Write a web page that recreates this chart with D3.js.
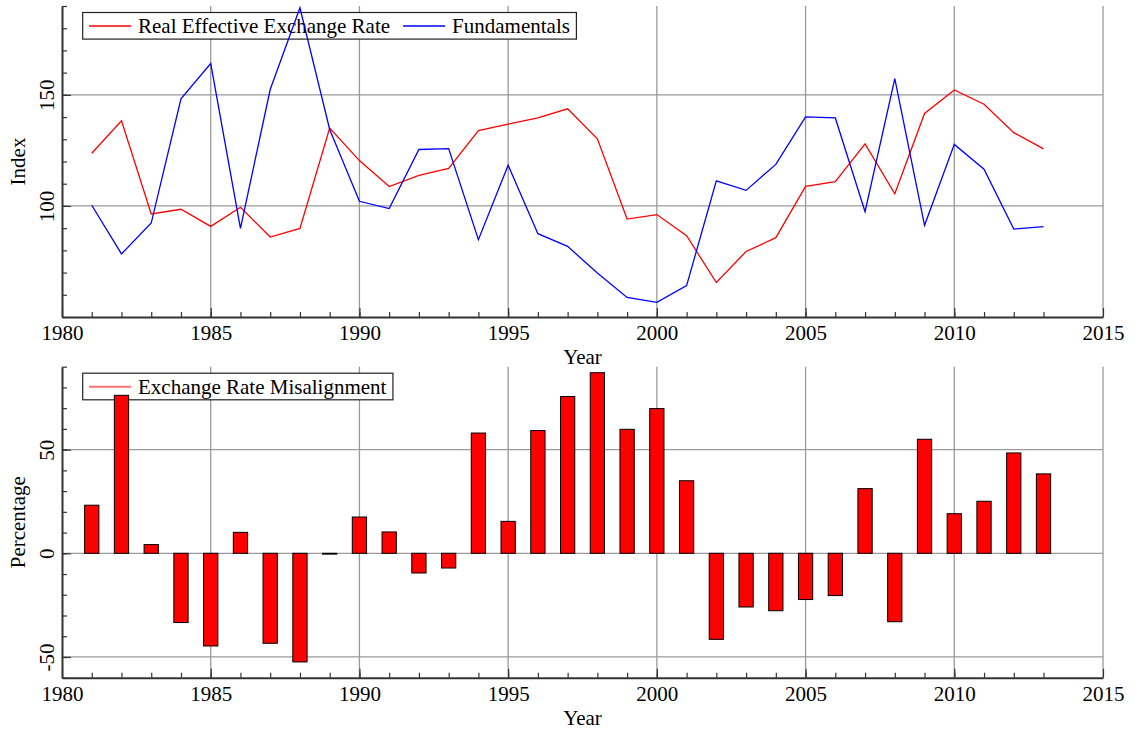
<!DOCTYPE html>
<html>
<head>
<meta charset="utf-8">
<script src="https://cdn.jsdelivr.net/npm/d3@7"></script>
<style>
  body { margin: 0; background: #fff; }
  svg text { font-family: 'Liberation Serif', 'Times New Roman', serif !important; }
</style>
</head>
<body>
<div id="chart"></div>
<script>
// years 1981..2013
const years = d3.range(1981, 2014);
const reer = [123.7, 138.3, 96.4, 98.5, 90.8, 99.4, 86.0, 89.9, 135.1, 120.4,
  108.7, 113.8, 116.9, 133.9, 136.8, 139.6, 143.7, 130.2, 94.1, 96.1,
  86.6, 65.5, 79.5, 85.7, 108.8, 110.9, 127.9, 105.5, 141.6, 152.2,
  145.8, 133.0, 125.7];
const fundamentals = [100.3, 78.4, 92.3, 148.2, 164.1, 89.9, 152.4, 189.2, 134.4, 102.1,
  98.8, 125.4, 125.8, 84.8, 118.3, 87.5, 81.8, 69.8, 58.8, 56.6,
  64.1, 111.3, 107.0, 118.7, 140.1, 139.6, 97.4, 157.3, 91.3, 127.7,
  116.5, 89.6, 90.7];
const misalignment = [23.2, 76.2, 4.2, -33.4, -44.7, 10.1, -43.4, -52.4, -0.4, 17.5,
  10.3, -9.5, -7.1, 58.0, 15.4, 59.2, 75.6, 87.1, 59.8, 69.8,
  35.0, -41.5, -25.9, -27.7, -22.3, -20.4, 31.2, -33.0, 55.0, 19.1,
  25.1, 48.4, 38.3];
const xTicks = [1980, 1985, 1990, 1995, 2000, 2005, 2010, 2015];
const indexTicks = [100, 150];
const pctTicks = [-50, 0, 50];

const width = 1139;
const height = 729;
const fontSize = 21;
const serif = "'Liberation Serif', 'Times New Roman', serif";

const svg = d3.select('#chart').append('svg')
  .attr('width', width)
  .attr('height', height);

const x = d3.scaleLinear().domain([1980, 2015]).range([62, 1103]);

function drawFrame(g, y, top, bottom, majorY, minorY, yTitle) {
  // grid
  g.append('g').selectAll('line.vx')
    .data(xTicks.slice(1))
    .enter().append('line')
      .attr('x1', d => x(d)).attr('x2', d => x(d))
      .attr('y1', top).attr('y2', bottom)
      .attr('stroke', '#9a9a9a').attr('stroke-width', 1.3);
  g.append('g').selectAll('line.hy')
    .data(majorY)
    .enter().append('line')
      .attr('x1', x.range()[0]).attr('x2', x.range()[1])
      .attr('y1', d => y(d)).attr('y2', d => y(d))
      .attr('stroke', '#9a9a9a').attr('stroke-width', 1.3);

  // x axis: minor then major
  g.append('g')
    .attr('transform', `translate(0,${bottom})`)
    .call(d3.axisBottom(x).tickValues(years).tickSizeInner(-5).tickSizeOuter(0).tickFormat(''))
    .call(a => a.select('.domain').remove())
    .call(a => a.selectAll('line').attr('stroke', '#333').attr('stroke-width', 1.2));
  const xa = g.append('g')
    .attr('transform', `translate(0,${bottom})`)
    .call(d3.axisBottom(x).tickValues(xTicks).tickSizeInner(-9).tickSizeOuter(0).tickFormat(d => String(d)));
  xa.attr('font-family', serif);
  xa.select('.domain').attr('stroke', '#333').attr('stroke-width', 2);
  xa.selectAll('line').attr('stroke', '#333').attr('stroke-width', 1.2);
  xa.selectAll('text')
    .attr('y', 23).attr('dy', 0)
    .attr('font-size', fontSize).attr('fill', '#000')
    .style('font-family', serif);

  g.append('text')
    .attr('x', (x.range()[0] + x.range()[1]) / 2)
    .attr('y', bottom + 47)
    .attr('text-anchor', 'middle')
    .attr('font-size', fontSize)
    .text('Year');

  // y axis
  g.append('g')
    .attr('transform', `translate(${x.range()[0]},0)`)
    .call(d3.axisLeft(y).tickValues(minorY).tickSizeInner(-5).tickSizeOuter(0).tickFormat(''))
    .call(a => a.select('.domain').remove())
    .call(a => a.selectAll('line').attr('stroke', '#333').attr('stroke-width', 1.2));
  const ya = g.append('g')
    .attr('transform', `translate(${x.range()[0]},0)`)
    .call(d3.axisLeft(y).tickValues(majorY).tickSizeInner(-9).tickSizeOuter(0).tickFormat(d => String(d)));
  ya.attr('font-family', serif);
  ya.select('.domain').attr('stroke', '#333').attr('stroke-width', 2);
  ya.selectAll('line').attr('stroke', '#333').attr('stroke-width', 1.2);
  ya.selectAll('text')
    .attr('transform', 'rotate(-90)')
    .attr('x', 0).attr('y', -8).attr('dy', 0)
    .attr('text-anchor', 'middle')
    .attr('font-size', fontSize).attr('fill', '#000')
    .style('font-family', serif);

  g.append('text')
    .attr('transform', `translate(25,${(top + bottom) / 2}) rotate(-90)`)
    .attr('text-anchor', 'middle')
    .attr('font-size', fontSize)
    .text(yTitle);
}

function drawLegend(g, top, items) {
  const box = g.append('rect')
    .attr('x', 82.7).attr('y', top + 6.5)
    .attr('height', 26.6)
    .attr('fill', '#fff').attr('stroke', '#222').attr('stroke-width', 1.2);
  let cx = 89;
  items.forEach(it => {
    g.append('line')
      .attr('x1', cx).attr('x2', cx + 42)
      .attr('y1', top + 20).attr('y2', top + 20)
      .attr('stroke', it.color).attr('stroke-width', it.width || 1.3);
    const t = g.append('text')
      .attr('x', cx + 49).attr('y', top + 27)
      .attr('font-size', fontSize)
      .text(it.label);
    cx = cx + 49 + t.node().getComputedTextLength() + 13;
  });
  box.attr('width', cx - 13 + 6.5 - 82.7);
}

// ---- top panel
const top1 = 6, bot1 = 317;
const y1 = d3.scaleLinear().domain([50, 190]).range([bot1, top1]);
const g1 = svg.append('g');
drawFrame(g1, y1, top1, bot1, indexTicks, d3.range(50, 191, 10), 'Index');
drawLegend(g1, top1, [
  { label: 'Real Effective Exchange Rate', color: '#ff0000' },
  { label: 'Fundamentals', color: '#0000ff' }
]);

const line1 = d3.line().x((d, i) => x(years[i])).y(d => y1(d));
g1.append('path').datum(reer)
  .attr('d', line1).attr('fill', 'none')
  .attr('stroke', '#ff0000').attr('stroke-width', 1.3);
g1.append('path').datum(fundamentals)
  .attr('d', line1).attr('fill', 'none')
  .attr('stroke', '#0000ff').attr('stroke-width', 1.3);

// ---- bottom panel
const top2 = 366.7, bot2 = 677.7;
const y2 = d3.scaleLinear().domain([-60, 90]).range([bot2, top2]);
const g2 = svg.append('g');
drawFrame(g2, y2, top2, bot2, pctTicks, d3.range(-60, 91, 10), 'Percentage');
drawLegend(g2, top2, [
  { label: 'Exchange Rate Misalignment', color: '#ff7070', width: 2 }
]);

const barW = x(1981) - x(1980.52);
g2.append('g').selectAll('rect')
  .data(misalignment)
  .enter().append('rect')
    .attr('x', (d, i) => x(years[i]) - barW / 2)
    .attr('width', barW)
    .attr('y', d => y2(Math.max(0, d)))
    .attr('height', d => Math.abs(y2(d) - y2(0)))
    .attr('fill', '#ff0000')
    .attr('stroke', '#000')
    .attr('stroke-width', 1);
</script>
</body>
</html>
